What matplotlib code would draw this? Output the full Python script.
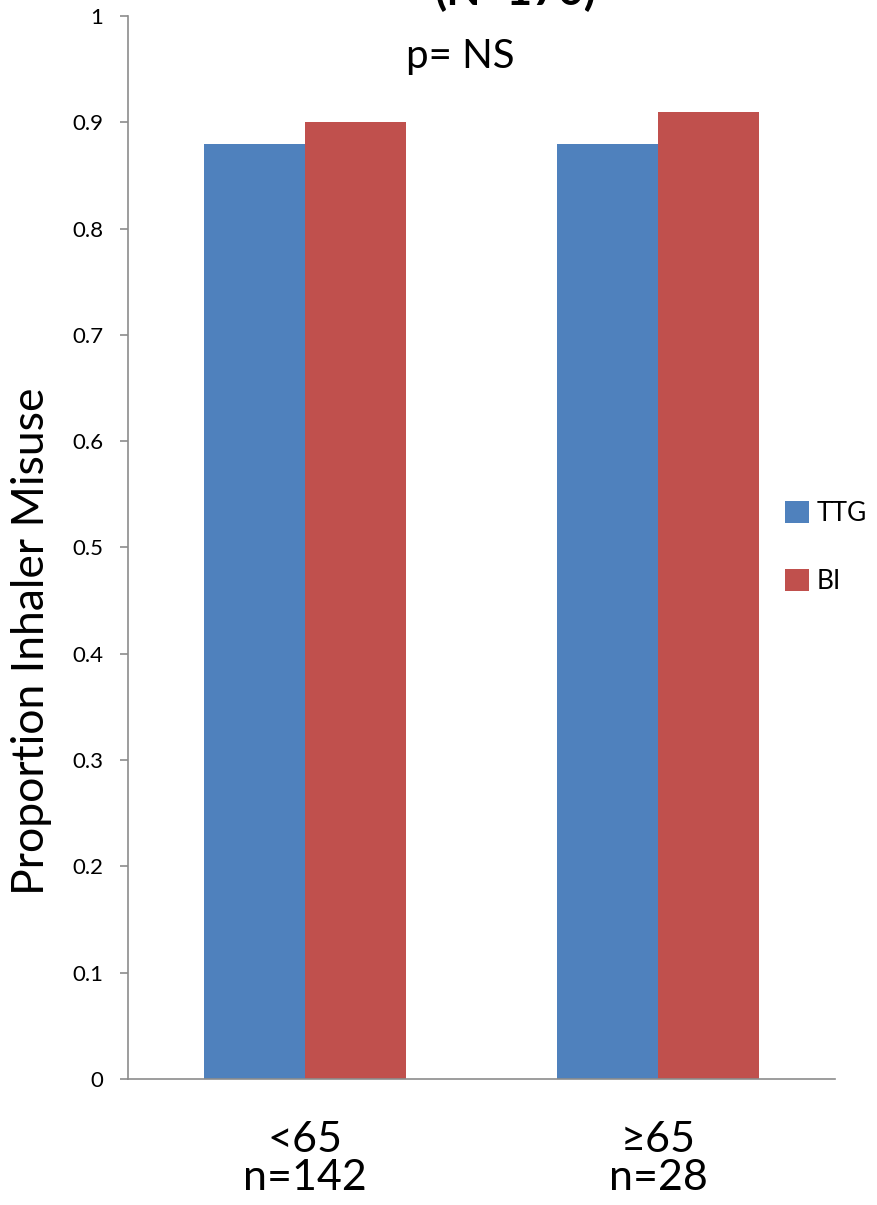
import numpy as np
import matplotlib.pyplot as plt

plt.rcParams['font.family'] = ['Lato', 'DejaVu Sans']

groups = ['<65\nn=142', '≥65\nn=28']
ttg = [0.88, 0.88]
bi = [0.90, 0.91]
yticks = [0, 0.1, 0.2, 0.3, 0.4, 0.5, 0.6, 0.7, 0.8, 0.9, 1]
ytick_labels = ['0', '0.1', '0.2', '0.3', '0.4', '0.5', '0.6', '0.7', '0.8', '0.9', '1']

blue = '#4F81BD'
red = '#C0504D'
grey = '#8C8C8C'

fig = plt.figure(figsize=(8.77, 12.05), dpi=100)
ax = fig.add_axes([0.146, 0.1046, 0.806, 0.8821])

x = np.arange(len(groups))
w = 0.286
ax.bar(x - w / 2, ttg, w, color=blue, label='TTG')
ax.bar(x + w / 2, bi, w, color=red, label='BI')

ax.set_xlim(-0.5, 1.5)
ax.set_ylim(0, 1)
ax.set_yticks(yticks)
ax.set_yticklabels(ytick_labels, fontsize=16)
ax.set_xticks(x)
ax.set_xticklabels(groups, fontsize=31, linespacing=1.0)
ax.tick_params(axis='x', length=0, pad=30)
ax.tick_params(axis='y', length=6, width=1.2, color=grey, pad=12)

for s in ['top', 'right']:
    ax.spines[s].set_visible(False)
for s in ['left', 'bottom']:
    ax.spines[s].set_color(grey)
    ax.spines[s].set_linewidth(1.2)

ax.set_ylabel('Proportion Inhaler Misuse', fontsize=32)
ax.yaxis.set_label_coords(-0.108, 0.412)

ax.text(0.47, 0.962, 'p= NS', transform=ax.transAxes, ha='center', va='center', fontsize=29)
fig.text(515 / 877, 1 - 5 / 1205, '(N=170)', ha='center', va='baseline', fontsize=32, fontweight='bold')

ax.legend(loc='center left', bbox_to_anchor=(0.93, 0.5), frameon=False, fontsize=19,
          borderaxespad=0, borderpad=0,
          handlelength=0.9, handleheight=0.9, handletextpad=0.3, labelspacing=1.6)

fig.savefig('out.png', dpi=100)
